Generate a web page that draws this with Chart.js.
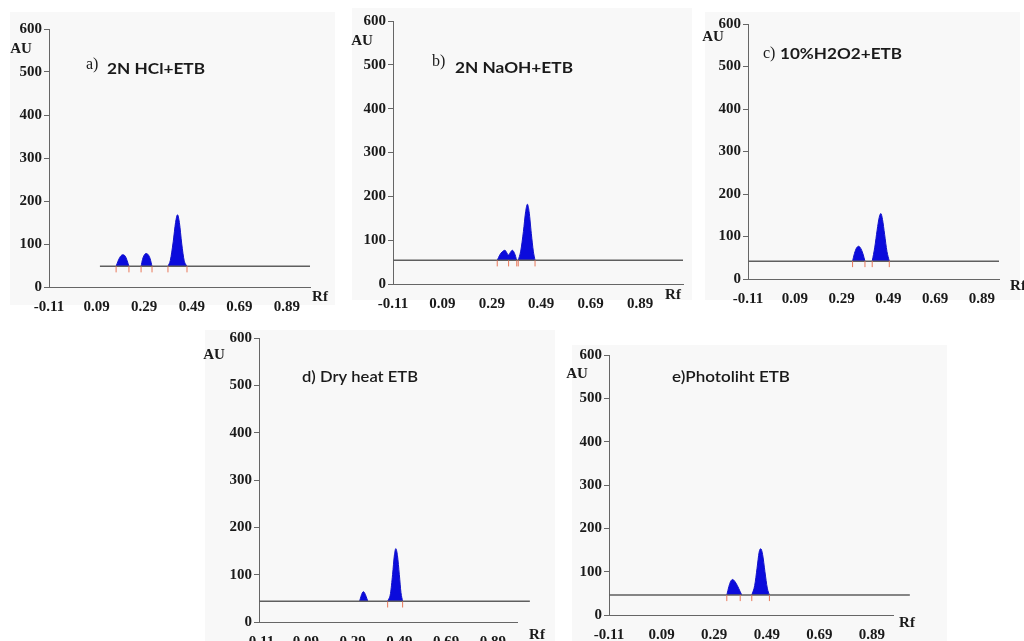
<!DOCTYPE html>
<html>
<head>
<meta charset="utf-8">
<script src="https://cdn.jsdelivr.net/npm/chart.js@4.4.1/dist/chart.umd.min.js"></script>
<style>
  html, body { margin: 0; padding: 0; background: #fff; width: 1024px; height: 641px; overflow: hidden; }
  .bg { position: absolute; background: #f8f8f8; }
  .panel { position: absolute; }
</style>
</head>
<body>
<script>
// ejes comunes
const xTicks = [-0.11, 0.09, 0.29, 0.49, 0.69, 0.89];
const xTickLabels = ['-0.11', '0.09', '0.29', '0.49', '0.69', '0.89'];
const yTicks = [0, 100, 200, 300, 400, 500, 600];

// a) 2N HCl+ETB
const aRf = [0.172, 0.180, 0.190, 0.200, 0.210, 0.218, 0.226, null,
             0.277, 0.283, 0.290, 0.298, 0.307, 0.315, 0.323, null,
             0.390, 0.400, 0.412, 0.422, 0.430, 0.438, 0.448, 0.458, 0.470];
const aAU = [48, 60, 71, 75, 72, 62, 48, null,
             48, 64, 74, 78, 75, 66, 48, null,
             48, 62, 105, 150, 168, 150, 100, 62, 48];
const aBase = 48;
const aBaseRf = [0.104, 0.987];
const aMarkRf = [0.172, 0.226, 0.277, 0.323, 0.390, 0.470];

// b) 2N NaOH+ETB
const bRf = [0.312, 0.322, 0.333, 0.343, 0.351, 0.358, 0.365, 0.373, 0.382, 0.391, null,
             0.397, 0.407, 0.418, 0.427, 0.434, 0.441, 0.450, 0.458, 0.465];
const bAU = [54, 66, 74, 77, 71, 66, 72, 77, 70, 54, null,
             54, 75, 120, 165, 182, 165, 115, 75, 54];
const bBase = 54;
const bBaseRf = [-0.11, 1.064];
const bMarkRf = [0.312, 0.358, 0.391, 0.397, 0.465];

// c) 10%H2O2+ETB
const cRf = [0.337, 0.345, 0.354, 0.363, 0.372, 0.381, 0.390, null,
             0.421, 0.432, 0.442, 0.451, 0.458, 0.465, 0.474, 0.484, 0.494];
const cAU = [42, 60, 73, 77, 72, 60, 42, null,
             42, 75, 115, 145, 154, 140, 105, 65, 42];
const cBase = 42;
const cBaseRf = [-0.11, 0.963];
const cMarkRf = [0.337, 0.390, 0.421, 0.494];

// d) Dry heat ETB
const dRf = [0.320, 0.326, 0.331, 0.336, 0.342, 0.348, 0.355, null,
             0.440, 0.452, 0.461, 0.469, 0.475, 0.482, 0.490, 0.497, 0.504];
const dAU = [44, 54, 61, 64, 61, 54, 44, null,
             44, 60, 100, 142, 155, 140, 100, 62, 44];
const dBase = 44;
const dBaseRf = [-0.11, 1.048];
const dMarkRf = [0.440, 0.504];

// e) Photoliht ETB
const eRf = [0.338, 0.346, 0.353, 0.360, 0.368, 0.378, 0.388, 0.395, null,
             0.433, 0.444, 0.453, 0.461, 0.467, 0.474, 0.483, 0.492, 0.500];
const eAU = [46, 66, 78, 82, 78, 68, 55, 46, null,
             46, 68, 108, 145, 153, 140, 100, 62, 46];
const eBase = 46;
const eBaseRf = [-0.11, 1.034];
const eMarkRf = [0.338, 0.389, 0.433, 0.500];

// posiciones de cada panel en la página (píxeles)
const panels = [
  { rf: aRf, au: aAU, base: aBase, baseRf: aBaseRf, mark: aMarkRf,
    x0: 49, x1: 310, y0: 287, yTop: 28, xMax: 0.987, bg: [10, 12, 325, 293],
    auPos: [-28, 20], rfPos: [10, 10],
    prefix: 'a)', prefixPos: [37, 36], title: '2N HCl+ETB', titlePos: [58, 40], titleW: 98, titleWeight: 'bold' },
  { rf: bRf, au: bAU, base: bBase, baseRf: bBaseRf, mark: bMarkRf,
    x0: 393, x1: 683, y0: 284, yTop: 20, xMax: 1.064, bg: [352, 8, 340, 292],
    auPos: [-31, 20], rfPos: [-10, 11],
    prefix: 'b)', prefixPos: [39, 41], title: '2N NaOH+ETB', titlePos: [62, 47], titleW: 118, titleWeight: 'bold' },
  { rf: cRf, au: cAU, base: cBase, baseRf: cBaseRf, mark: cMarkRf,
    x0: 748, x1: 999, y0: 279, yTop: 23, xMax: 0.963, bg: [705, 12, 315, 288],
    auPos: [-35, 13], rfPos: [19, 7],
    prefix: 'c)', prefixPos: [15, 30], title: '10%H2O2+ETB', titlePos: [32, 30], titleW: 122, titleWeight: 'bold' },
  { rf: dRf, au: dAU, base: dBase, baseRf: dBaseRf, mark: dMarkRf,
    x0: 259, x1: 517, y0: 622, yTop: 337, xMax: 0.993, bg: [205, 330, 350, 311],
    auPos: [-45, 17], rfPos: [20, 13],
    prefix: null, title: 'd) Dry heat ETB', titlePos: [43, 39], titleW: 116, titleWeight: '600' },
  { rf: eRf, au: eAU, base: eBase, baseRf: eBaseRf, mark: eMarkRf,
    x0: 609, x1: 893, y0: 615, yTop: 354, xMax: 0.970, bg: [572, 345, 375, 296],
    auPos: [-32, 19], rfPos: [14, 8],
    prefix: null, title: 'e)Photoliht ETB', titlePos: [63, 22], titleW: 118, titleWeight: '600' }
];

const AXIS_W = 56, AXIS_H = 26, PAD_TOP = 10, PAD_RIGHT = 40;
const serif = '"Liberation Serif", "Times New Roman", serif';
const tickFont = { family: serif, size: 15, weight: 'bold' };

// textos: AU, Rf y el título de cada panel
const panelText = {
  id: 'panelText',
  afterDraw(chart, args, o) {
    const ctx = chart.ctx;
    const { left, right, top, bottom } = chart.chartArea;
    ctx.save();
    ctx.fillStyle = '#1a1a1a';
    ctx.textBaseline = 'middle';
    ctx.textAlign = 'center';
    ctx.font = 'bold 15px ' + serif;
    ctx.fillText('AU', left + o.auPos[0], top + o.auPos[1]);
    ctx.fillText('Rf', right + o.rfPos[0], bottom + o.rfPos[1]);
    ctx.textAlign = 'left';
    if (o.prefix) {
      ctx.font = '16px ' + serif;
      ctx.fillText(o.prefix, left + o.prefixPos[0], top + o.prefixPos[1]);
    }
    ctx.font = o.titleWeight + ' 15px Lato, "Open Sans", sans-serif';
    const w = ctx.measureText(o.title).width;
    ctx.translate(left + o.titlePos[0], top + o.titlePos[1]);
    ctx.scale(o.titleW / w, 1);
    ctx.fillText(o.title, 0, 0);
    ctx.restore();
  }
};

panels.forEach(p => {
  const bg = document.createElement('div');
  bg.className = 'bg';
  bg.style.left = p.bg[0] + 'px'; bg.style.top = p.bg[1] + 'px';
  bg.style.width = p.bg[2] + 'px'; bg.style.height = p.bg[3] + 'px';
  document.body.appendChild(bg);

  const box = document.createElement('div');
  box.className = 'panel';
  box.style.left = (p.x0 - AXIS_W) + 'px';
  box.style.top = (p.yTop - PAD_TOP) + 'px';
  const canvas = document.createElement('canvas');
  canvas.width = (p.x1 - p.x0) + AXIS_W + PAD_RIGHT;
  canvas.height = (p.y0 - p.yTop) + PAD_TOP + AXIS_H;
  box.appendChild(canvas);
  document.body.appendChild(box);

  const peakPts = p.rf.map((x, i) => ({ x: x, y: p.au[i] }));
  const basePts = p.baseRf.map(x => ({ x: x, y: p.base }));
  const markPts = p.mark.map(x => ({ x: x, y: p.base - 7 }));

  new Chart(canvas.getContext('2d'), {
    type: 'line',
    data: {
      datasets: [
        {
          data: peakPts,
          borderColor: '#1212c8',
          backgroundColor: '#0b0bdc',
          borderWidth: 1,
          pointRadius: 0,
          fill: { value: p.base },
          cubicInterpolationMode: 'monotone',
          spanGaps: false,
          order: 2
        },
        {
          data: basePts,
          borderColor: '#5f5f5f',
          borderWidth: 1.5,
          pointRadius: 0,
          fill: false,
          clip: false,
          order: 1
        },
        {
          data: markPts,
          showLine: false,
          pointStyle: 'line',
          rotation: 90,
          pointRadius: 3,
          borderColor: '#e8785a',
          borderWidth: 1,
          order: 0
        }
      ]
    },
    options: {
      responsive: false,
      animation: false,
      devicePixelRatio: 1,
      layout: { padding: { top: PAD_TOP, right: PAD_RIGHT, left: 0, bottom: 0 } },
      plugins: {
        legend: { display: false },
        tooltip: { enabled: false },
        panelText: p
      },
      scales: {
        x: {
          type: 'linear',
          min: -0.11,
          max: p.xMax,
          afterBuildTicks: s => { s.ticks = xTicks.map(v => ({ value: v })); },
          afterFit: s => { s.height = AXIS_H; },
          ticks: {
            autoSkip: false, maxRotation: 0, padding: 3,
            font: tickFont, color: '#1a1a1a',
            callback: (v, i) => xTickLabels[i]
          },
          grid: { display: false },
          border: { color: '#666', width: 1 }
        },
        y: {
          min: 0,
          max: 600,
          afterBuildTicks: s => { s.ticks = yTicks.map(v => ({ value: v })); },
          afterFit: s => { s.width = AXIS_W; },
          ticks: { padding: 2, font: tickFont, color: '#1a1a1a' },
          grid: { drawOnChartArea: false, tickLength: 5, color: '#666' },
          border: { color: '#666', width: 1 }
        }
      }
    },
    plugins: [panelText]
  });
});
</script>
</body>
</html>
